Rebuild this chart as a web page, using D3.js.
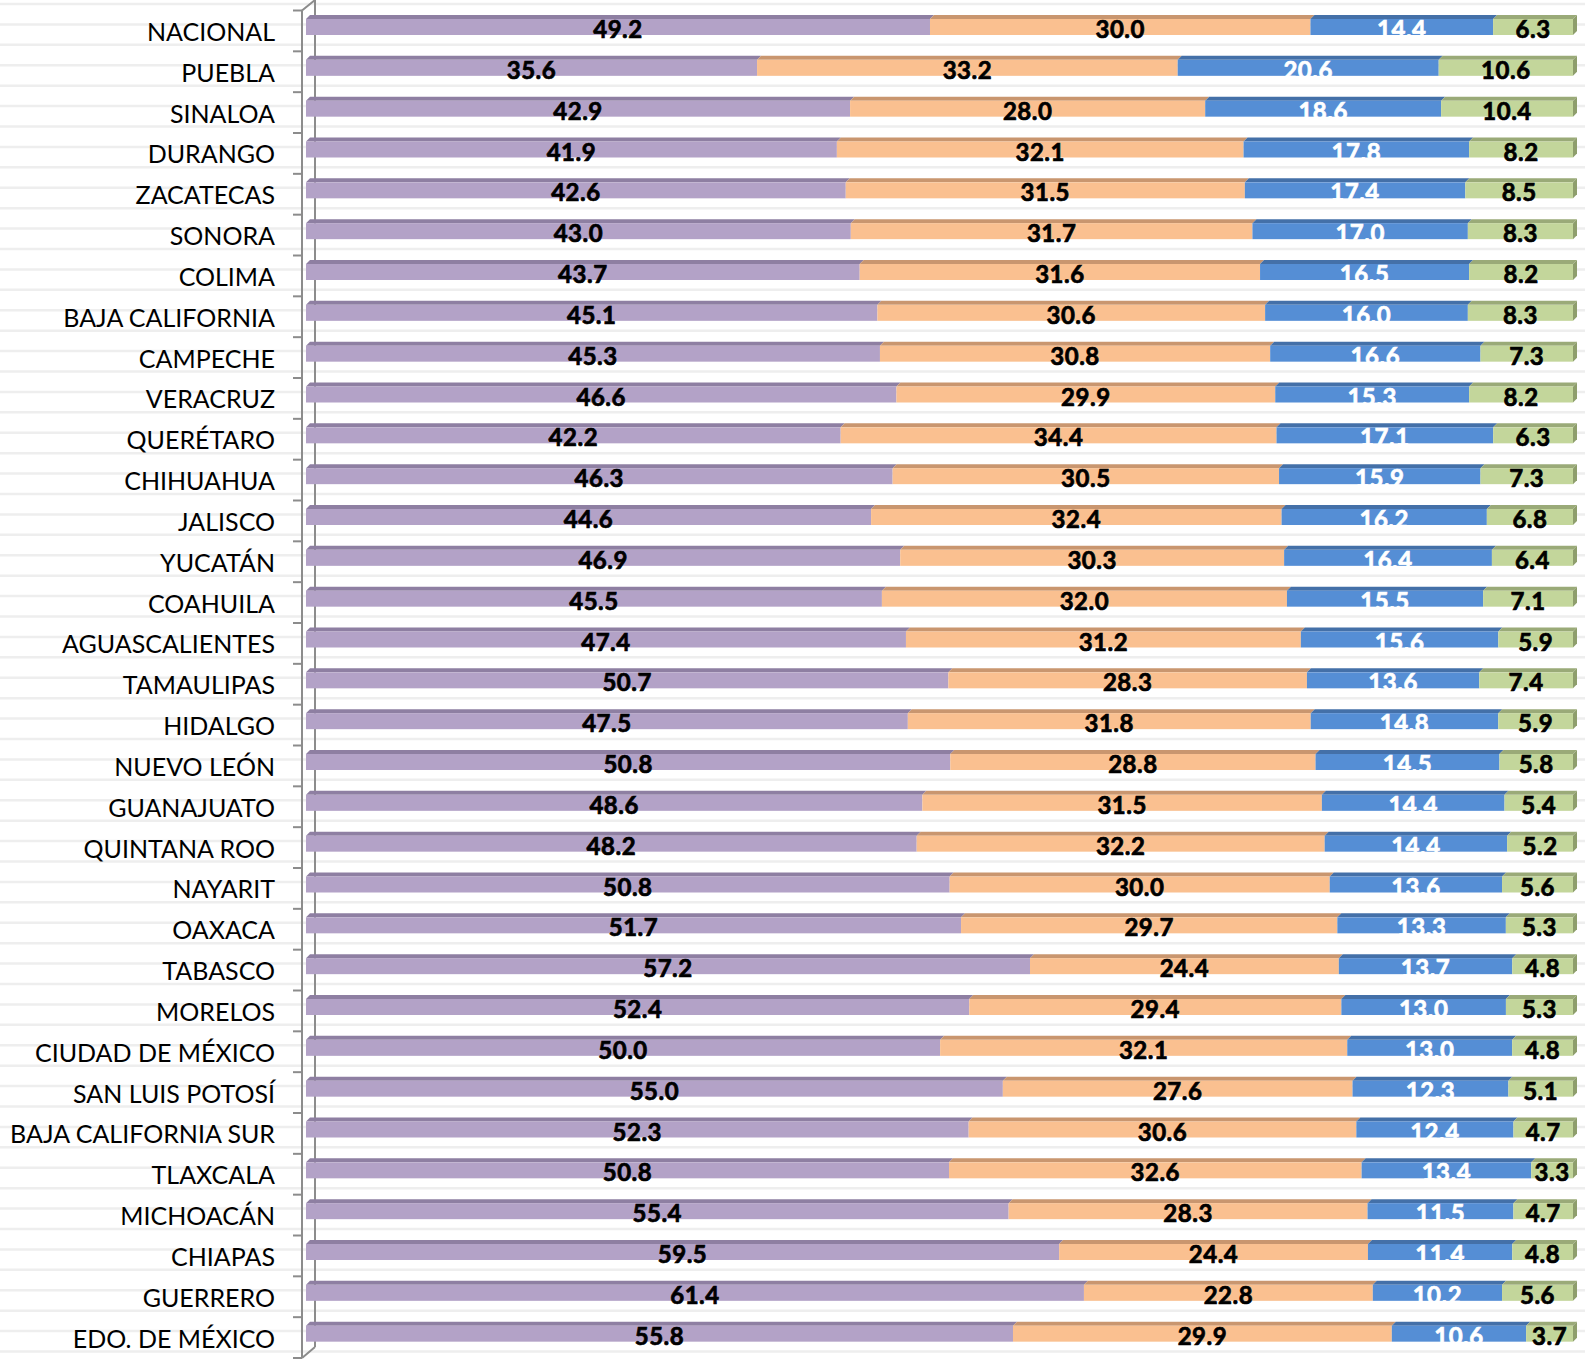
<!DOCTYPE html>
<html><head><meta charset="utf-8">
<script src="https://cdn.jsdelivr.net/npm/d3@7"></script>
<style>html,body{margin:0;padding:0;background:#fff;}svg{display:block;}</style>
</head><body>
<svg id="chart" width="1585" height="1361"></svg>
<script>
const categories = ["NACIONAL","PUEBLA","SINALOA","DURANGO","ZACATECAS","SONORA","COLIMA","BAJA CALIFORNIA","CAMPECHE","VERACRUZ","QUERÉTARO","CHIHUAHUA","JALISCO","YUCATÁN","COAHUILA","AGUASCALIENTES","TAMAULIPAS","HIDALGO","NUEVO LEÓN","GUANAJUATO","QUINTANA ROO","NAYARIT","OAXACA","TABASCO","MORELOS","CIUDAD DE MÉXICO","SAN LUIS POTOSÍ","BAJA CALIFORNIA SUR","TLAXCALA","MICHOACÁN","CHIAPAS","GUERRERO","EDO. DE MÉXICO"];
const serie1 = [49.2,35.6,42.9,41.9,42.6,43.0,43.7,45.1,45.3,46.6,42.2,46.3,44.6,46.9,45.5,47.4,50.7,47.5,50.8,48.6,48.2,50.8,51.7,57.2,52.4,50.0,55.0,52.3,50.8,55.4,59.5,61.4,55.8];
const serie2 = [30.0,33.2,28.0,32.1,31.5,31.7,31.6,30.6,30.8,29.9,34.4,30.5,32.4,30.3,32.0,31.2,28.3,31.8,28.8,31.5,32.2,30.0,29.7,24.4,29.4,32.1,27.6,30.6,32.6,28.3,24.4,22.8,29.9];
const serie3 = [14.4,20.6,18.6,17.8,17.4,17.0,16.5,16.0,16.6,15.3,17.1,15.9,16.2,16.4,15.5,15.6,13.6,14.8,14.5,14.4,14.4,13.6,13.3,13.7,13.0,13.0,12.3,12.4,13.4,11.5,11.4,10.2,10.6];
const serie4 = [6.3,10.6,10.4,8.2,8.5,8.3,8.2,8.3,7.3,8.2,6.3,7.3,6.8,6.4,7.1,5.9,7.4,5.9,5.8,5.4,5.2,5.6,5.3,4.8,5.3,4.8,5.1,4.7,3.3,4.7,4.8,5.6,3.7];
const frontColors = ["#B3A2C7","#FAC090","#558ED5","#C3D69B"];
const topColors   = ["#8E7FA2","#C9966F","#4470A8","#9AAA78"];
const sideColors  = ["#8E7FA2","#C9966F","#4470A8","#8E9E6C"];
const labelColors = ["#000","#000","#fff","#000"];

const svg = d3.select("#chart");
const W = 1585, H = 1361;
const y = d3.scaleBand().domain(categories).range([10.5, 1358]).padding(0);
const x = d3.scaleLinear().domain([0, 1]).range([306, 1573]);
const bw = y.bandwidth();
const depth = 4;

// background texture lines
const bg = svg.append("g");
for (let k = 0; k <= categories.length * 2; k++) {
  const yy = y.range()[0] - 6.5 + k * bw / 2;
  bg.append("line").attr("x1", 0).attr("x2", W).attr("y1", yy).attr("y2", yy)
    .attr("stroke", "#eeeeee").attr("stroke-width", 2.5);
}

// back wall line
const y0 = y.range()[0], y1 = y.range()[1];
svg.append("path")
  .attr("d", `M302,${y0} L315,${y0-10.5} M315,${y0-10.5} L315,${y1-11} M302,${y1} L315,${y1-11}`)
  .attr("stroke", "#8c8c8c").attr("stroke-width", 2).attr("fill", "none");

// stacked data
const rows = categories.map((c, i) => {
  const vals = [serie1[i], serie2[i], serie3[i], serie4[i]];
  const tot = d3.sum(vals);
  let acc = 0;
  return vals.map((v, j) => { const s = acc; acc += v / tot; return {cat: c, j, v, s, e: acc}; });
});

const gBars = svg.append("g");
rows.forEach(segs => {
  const g = gBars.append("g");
  const top = y(segs[0].cat) + 8.5, bot = top + 16;
  segs.forEach(d => {
    const xa = x(d.s), xb = x(d.e);
    g.append("path").attr("d", `M${xa},${top} L${xa+depth},${top-depth} L${xb+depth},${top-depth} L${xb},${top} Z`)
      .attr("fill", topColors[d.j]);
    g.append("rect").attr("x", xa).attr("y", top).attr("width", xb - xa).attr("height", bot - top)
      .attr("fill", frontColors[d.j]);
  });
  const last = segs[3];
  const xe = x(last.e);
  g.append("path").attr("d", `M${xe},${top} L${xe+depth},${top-depth} L${xe+depth},${bot-depth} L${xe},${bot} Z`)
    .attr("fill", sideColors[3]);
});

// data labels
const gLab = svg.append("g").attr("font-family", "Lato, sans-serif").attr("font-weight", "bold")
  .attr("font-size", 24).attr("text-anchor", "middle");
rows.forEach(segs => {
  segs.forEach(d => {
    gLab.append("text").attr("x", (x(d.s) + x(d.e)) / 2).attr("y", y(d.cat) + 27.5)
      .attr("fill", labelColors[d.j]).attr("stroke", labelColors[d.j]).attr("stroke-width", 0.7)
      .style("letter-spacing", "0.5px").text(d.v.toFixed(1));
  });
});

// front axis with ticks
const gAx = svg.append("g");
gAx.append("line").attr("x1", 302).attr("x2", 302).attr("y1", y0).attr("y2", y1)
  .attr("stroke", "#8c8c8c").attr("stroke-width", 2);
d3.range(categories.length + 1).forEach(i => {
  const yy = y0 + i * bw;
  gAx.append("line").attr("x1", 293).attr("x2", 302).attr("y1", yy).attr("y2", yy)
    .attr("stroke", "#8c8c8c").attr("stroke-width", 2);
});

// category labels
svg.append("g").attr("font-family", "Lato, sans-serif").attr("font-size", 25)
  .attr("text-anchor", "end").attr("fill", "#000")
  .selectAll("text").data(categories).join("text")
  .attr("x", 275).attr("y", d => y(d) + bw / 2 + 10).text(d => d);
</script>
</body></html>
